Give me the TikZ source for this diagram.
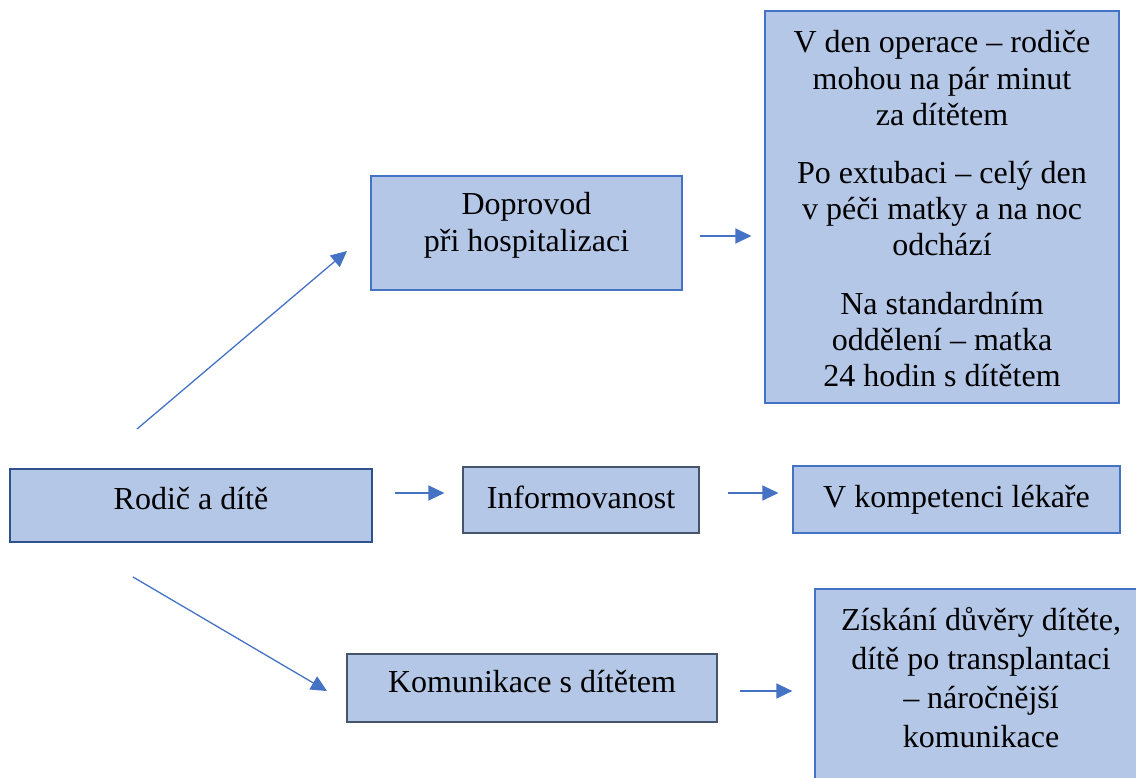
\documentclass[tikz,border=0pt]{standalone}
\usepackage{fontspec}
\setmainfont{Liberation Serif}
\usetikzlibrary{arrows.meta}
\definecolor{boxfill}{HTML}{B4C7E7}
\definecolor{boxline}{HTML}{4472C4}
\definecolor{darkline}{HTML}{2F528F}
\definecolor{grayline}{HTML}{44546A}
\newcommand{\sink}[1]{\rule[-#1]{0pt}{0pt}}
\begin{document}
\begin{tikzpicture}[x=1pt,y=-1pt,
  box/.style={draw=boxline,fill=boxfill,line width=1.2pt,inner sep=0pt,align=center,
    font=\fontsize{32}{37}\selectfont},
  arr/.style={-{Triangle[length=16pt,width=15pt]},draw=boxline,line width=1.3pt}]
\useasboundingbox (0,0) rectangle (1136,778);
\node[box,draw=darkline,line width=2.2pt,minimum width=362pt,minimum height=73pt,text depth=13.5pt] (rodic) at (191,505.5) {Rodič a dítě};
\node[box,minimum width=311pt,minimum height=114pt] (doprovod) at (526.5,233) {Doprovod\\při hospitalizaci\sink{22pt}};
\node[box,minimum width=354pt,minimum height=392pt,font=\fontsize{32}{36.2}\selectfont] (operace) at (942,207)
  {\rule{0pt}{25.6pt}V den operace – rodiče\\mohou na pár minut\\za dítětem\\[22pt]Po extubaci – celý den\\v péči matky a na noc\\odchází\\[22pt]Na standardním\\oddělení – matka\\24 hodin s dítětem};
\node[box,draw=grayline,minimum width=236pt,minimum height=66pt,text depth=6pt] (info) at (581,500) {Informovanost};
\node[box,minimum width=327pt,minimum height=67pt] (kompetence) at (956.5,499.5) {V kompetenci lékaře};
\node[box,draw=grayline,minimum width=370pt,minimum height=68pt,text depth=12.5pt] (komunikace) at (532,688) {Komunikace s dítětem};
\node[box,minimum width=332pt,minimum height=210pt,font=\fontsize{32}{39}\selectfont] (duvera) at (981,694)
  {Získání důvěry dítěte,\\dítě po transplantaci\\– náročnější\\komunikace\sink{33pt}};
\coordinate (up1) at (137,429);
\coordinate (up2) at (347,251);
\coordinate (dn1) at (133,577);
\coordinate (dn2) at (327,691);
\coordinate (h1) at (0,236);
\coordinate (h2) at (0,493);
\coordinate (h3) at (0,691);
\draw[arr] (up1) -- (up2);
\draw[arr] (dn1) -- (dn2);
\draw[arr,shorten <=17pt,shorten >=13pt] (h1 -| doprovod.east) -- (h1 -| operace.west);
\draw[arr,shorten <=22pt,shorten >=18pt] (h2 -| rodic.east) -- (h2 -| info.west);
\draw[arr,shorten <=28pt,shorten >=14pt] (h2 -| info.east) -- (h2 -| kompetence.west);
\draw[arr,shorten <=22pt,shorten >=22pt] (h3 -| komunikace.east) -- (h3 -| duvera.west);
\end{tikzpicture}
\end{document}
